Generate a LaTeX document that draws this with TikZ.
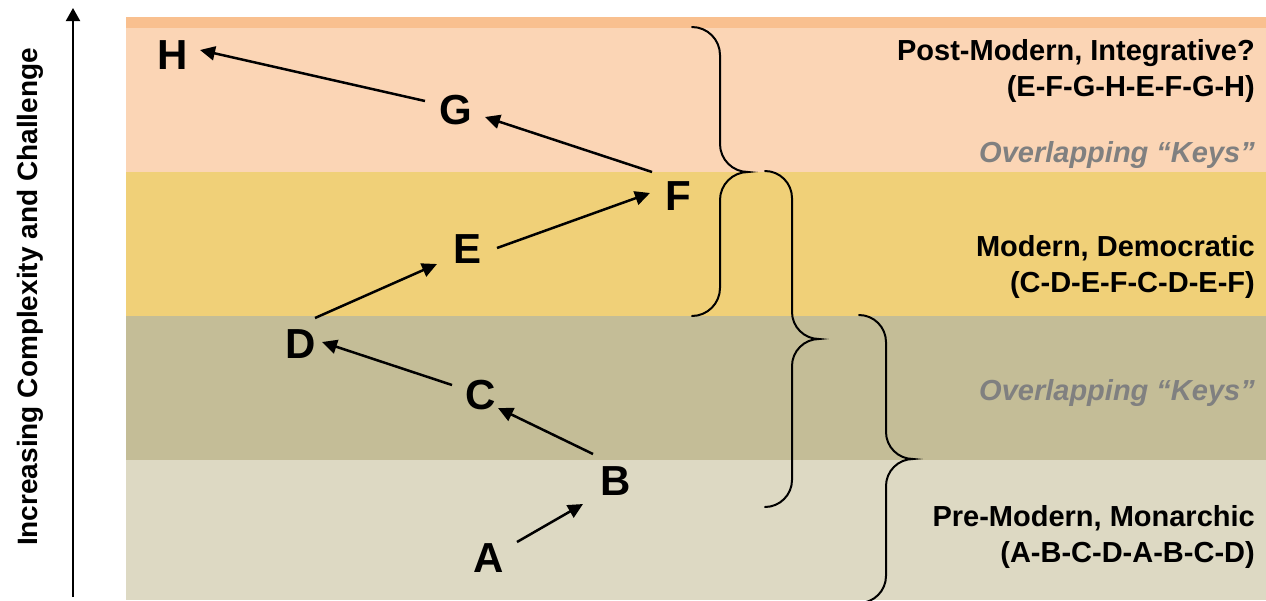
\documentclass[tikz,border=0pt]{standalone}
\usepackage{fontspec}
\setmainfont{Liberation Sans}
\usetikzlibrary{arrows.meta}
\definecolor{stripc}{HTML}{F9C08F}
\definecolor{bandA}{HTML}{FBD5B5}
\definecolor{bandB}{HTML}{F0D078}
\definecolor{bandC}{HTML}{C4BD97}
\definecolor{bandD}{HTML}{DDD9C3}
\definecolor{keygray}{HTML}{808080}
\tikzset{
  letter/.style={font=\fontsize{42}{42}\selectfont\bfseries, inner sep=0pt},
  flow/.style={line width=2.5pt, -{Triangle[length=15pt,width=14pt]}},
  bracepath/.style={line width=2pt, line cap=round},
  eralabel/.style={font=\fontsize{29}{36}\selectfont\bfseries, align=right, anchor=base east, inner sep=0pt},
  keylabel/.style={font=\fontsize{29}{36}\selectfont\bfseries\itshape, text=keygray, anchor=base east, inner sep=0pt},
  axislabel/.style={font=\fontsize{28}{32}\selectfont\bfseries, rotate=90, inner sep=0pt}
}
\newcommand{\mybrace}[5]{% x0, ytop, ymid, ybot, r
  \draw[bracepath] (#1,#2) .. controls ({#1+0.55*#5},#2) and ({#1+#5},{#2+0.45*#5}) .. ({#1+#5},{#2+#5})
    -- ({#1+#5},{#3-#5}) .. controls ({#1+#5},{#3-0.45*#5}) and ({#1+1.45*#5},#3) .. ({#1+2*#5},#3)
    .. controls ({#1+1.45*#5},#3) and ({#1+#5},{#3+0.45*#5}) .. ({#1+#5},{#3+#5})
    -- ({#1+#5},{#4-#5}) .. controls ({#1+#5},{#4-0.45*#5}) and ({#1+0.55*#5},#4) .. (#1,#4);}
\begin{document}
\begin{tikzpicture}[x=1pt,y=-1pt]
\useasboundingbox (0,0) rectangle (1266,600);
\begin{scope}
\clip (0,0) rectangle (1266,600);
% bands
\fill[stripc] (126,17) rectangle (1266,28);
\fill[bandA] (126,28) rectangle (1266,172);
\fill[bandB] (126,172) rectangle (1266,316);
\fill[bandC] (126,316) rectangle (1266,460);
\fill[bandD] (126,460) rectangle (1266,600);
% braces
\mybrace{692}{27}{172}{316}{28}
\mybrace{765}{171}{339}{507}{27}
\mybrace{859}{315}{459}{603}{27}
\end{scope}
% axis
\coordinate (axbot) at (73,597);
\coordinate (axtop) at (73,8);
\draw[line width=2pt, -{Triangle[length=13pt,width=14pt]}] (axbot) -- (axtop);
\node[axislabel] (axl) at (30,297) {Increasing Complexity and Challenge};
% letters
\node[letter] (H) at (173,55) {H};
\node[letter] (G) at (456,110) {G};
\node[letter] (F) at (678,196) {F};
\node[letter] (E) at (468,249) {E};
\node[letter] (D) at (301,344) {D};
\node[letter] (C) at (481,395) {C};
\node[letter] (B) at (616,481) {B};
\node[letter] (A) at (489,558) {A};
% arrows
\draw[flow] ([shift={(28,-16)}]A.center) -- ([shift={(-33,23)}]B.center);
\draw[flow] ([shift={(-23,-27)}]B.center) -- ([shift={(17,13)}]C.center);
\draw[flow] ([shift={(-29,-10)}]C.center) -- ([shift={(21,-2)}]D.center);
\draw[flow] ([shift={(14,-26)}]D.center) -- ([shift={(-31,15)}]E.center);
\draw[flow] ([shift={(29,-1)}]E.center) -- ([shift={(-28,-3)}]F.center);
\draw[flow] ([shift={(-26,-24)}]F.center) -- ([shift={(29,7)}]G.center);
\draw[flow] ([shift={(-31,-9)}]G.center) -- ([shift={(27,-5)}]H.center);
% labels
\node[eralabel] (pm) at (1255,96) {Post-Modern, Integrative?\\(E-F-G-H-E-F-G-H)};
\node[keylabel] (k1) at (1255,162) {Overlapping “Keys”};
\node[eralabel] (md) at (1255,292) {Modern, Democratic\\(C-D-E-F-C-D-E-F)};
\node[keylabel] (k2) at (1255,400) {Overlapping “Keys”};
\node[eralabel] (pr) at (1255,562) {Pre-Modern, Monarchic\\(A-B-C-D-A-B-C-D)};
\end{tikzpicture}
\end{document}
